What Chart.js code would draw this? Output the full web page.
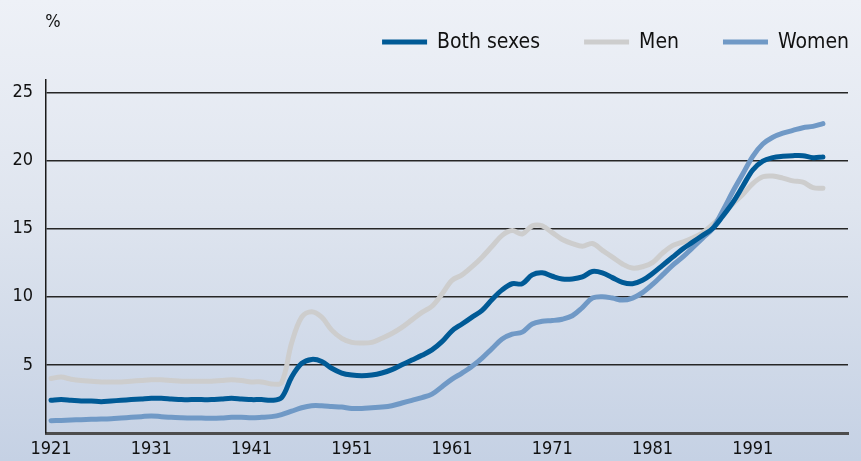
<!DOCTYPE html>
<html>
<head>
<meta charset="utf-8">
<script src="https://cdn.jsdelivr.net/npm/chart.js@4.4.1/dist/chart.umd.min.js"></script>
<style>
  html, body { margin: 0; padding: 0; }
  body {
    width: 861px; height: 461px; overflow: hidden;
    background: linear-gradient(to bottom, #eef1f7 0%, #dfe5ef 45%, #c5d1e4 100%);
  }
  #wrap { position: relative; width: 861px; height: 461px; }
  canvas { display: block; }
</style>
</head>
<body>
<div id="wrap"><canvas id="chart" width="861" height="461"></canvas></div>
<script>
// --- DATA ---
const years = [];
for (let y = 1921; y <= 1998; y++) years.push(y);

const bothSexes = [
  2.4, 2.45, 2.4, 2.35, 2.35, 2.3, 2.35, 2.4, 2.45, 2.5,
  2.55, 2.55, 2.5, 2.45, 2.45, 2.45, 2.45, 2.5, 2.55, 2.5,
  2.45, 2.45, 2.4, 2.6, 4.1, 5.1, 5.4, 5.25, 4.75, 4.4,
  4.25, 4.2, 4.25, 4.4, 4.65, 5.0, 5.35, 5.7, 6.1, 6.7,
  7.5, 8.0, 8.5, 9.0, 9.8, 10.5, 10.95, 10.95, 11.6, 11.75,
  11.5, 11.3, 11.3, 11.45, 11.85, 11.75, 11.4, 11.05, 10.95, 11.2,
  11.7, 12.3, 12.9, 13.5, 14.0, 14.5, 15.0, 15.9, 16.9, 18.1,
  19.3, 19.95, 20.2, 20.3, 20.35, 20.35, 20.2, 20.25
];

const men = [
  4.0, 4.1, 3.95, 3.85, 3.8, 3.75, 3.75, 3.75, 3.8, 3.85,
  3.9, 3.9, 3.85, 3.8, 3.8, 3.8, 3.8, 3.85, 3.9, 3.85,
  3.75, 3.75, 3.6, 3.7, 6.6, 8.5, 8.9, 8.5, 7.55, 6.95,
  6.65, 6.6, 6.65, 6.95, 7.3, 7.75, 8.3, 8.85, 9.3, 10.2,
  11.2, 11.6, 12.2, 12.9, 13.7, 14.5, 14.85, 14.6, 15.2, 15.2,
  14.7, 14.2, 13.9, 13.7, 13.9, 13.4, 12.9, 12.4, 12.1, 12.2,
  12.5, 13.2, 13.75, 14.0, 14.3, 14.7, 15.3, 16.0, 16.8, 17.5,
  18.3, 18.8, 18.85, 18.7, 18.5, 18.4, 18.0, 17.95
];

const women = [
  0.9, 0.92, 0.95, 0.98, 1.0, 1.02, 1.05, 1.1, 1.15, 1.2,
  1.25, 1.2, 1.15, 1.12, 1.1, 1.1, 1.08, 1.1, 1.15, 1.15,
  1.12, 1.15, 1.2, 1.35, 1.6, 1.85, 2.0, 2.0, 1.95, 1.9,
  1.8, 1.8, 1.85, 1.9, 2.0, 2.2, 2.4, 2.6, 2.85, 3.4,
  3.95, 4.4, 4.9, 5.5, 6.2, 6.9, 7.25, 7.4, 8.0, 8.2,
  8.25, 8.35, 8.6, 9.2, 9.9, 10.0, 9.9, 9.75, 9.9, 10.3,
  10.9, 11.6, 12.3, 12.9, 13.6, 14.3, 15.0, 16.3, 17.7, 19.0,
  20.3, 21.2, 21.7, 22.0, 22.2, 22.4, 22.5, 22.7
];

const xTicks = [1921, 1931, 1941, 1951, 1961, 1971, 1981, 1991];
const yTicks = [0, 5, 10, 15, 20, 25];

const FONT = "'DejaVu Sans Condensed', 'Liberation Sans Narrow', 'Liberation Sans', sans-serif";

function toPoints(values) {
  return values.map((v, i) => ({ x: years[i], y: v }));
}

// "%" unit label and the legend, drawn on the canvas
const extrasPlugin = {
  id: 'extras',
  afterDraw(chart) {
    const ctx = chart.ctx;
    ctx.save();
    ctx.fillStyle = '#111';
    ctx.font = '18px ' + FONT;
    ctx.textAlign = 'center';
    ctx.textBaseline = 'middle';
    ctx.fillText('%', 53, 22);

    // legend, laid out from the right edge
    ctx.font = '21px ' + FONT;
    ctx.textAlign = 'left';
    const lineW = 45, textGap = 10, itemGap = 44, y = 42;
    const items = [0, 1, 2].map(i => chart.data.datasets[i]);
    let x = 849;
    const placed = [];
    for (let i = items.length - 1; i >= 0; i--) {
      const w = ctx.measureText(items[i].label).width;
      const textX = x - w;
      const lineX = textX - textGap - lineW;
      placed.unshift({ ds: items[i], textX, lineX });
      x = lineX - itemGap;
    }
    placed.forEach(p => {
      ctx.fillStyle = p.ds.borderColor;
      ctx.fillRect(p.lineX, y - 2.5, lineW, 5);
      ctx.fillStyle = '#111';
      ctx.fillText(p.ds.label, p.textX, y + 1);
    });
    ctx.restore();
  }
};

const ctx = document.getElementById('chart').getContext('2d');
new Chart(ctx, {
  type: 'line',
  data: {
    datasets: [
      { label: 'Both sexes', data: toPoints(bothSexes), borderColor: '#005a96', order: 0 },
      { label: 'Men', data: toPoints(men), borderColor: '#cdcdcd', order: 2 },
      { label: 'Women', data: toPoints(women), borderColor: '#7099c6', order: 1 }
    ]
  },
  options: {
    responsive: false,
    animation: false,
    devicePixelRatio: 1,
    layout: { padding: { top: 80, right: 13, left: 0, bottom: 0 } },
    elements: {
      line: { borderWidth: 5, tension: 0.35, borderCapStyle: 'round', borderJoinStyle: 'round', fill: false },
      point: { radius: 0 }
    },
    plugins: {
      legend: { display: false },
      tooltip: { enabled: false }
    },
    scales: {
      x: {
        type: 'linear',
        min: 1920.5,
        max: 2000.5,
        afterBuildTicks: scale => { scale.ticks = xTicks.map(v => ({ value: v })); },
        afterFit: scale => { scale.height = 28; },
        grid: { display: false, drawTicks: false },
        border: { display: true, color: '#4d4d4d', width: 3 },
        ticks: {
          padding: 6,
          autoSkip: false,
          maxRotation: 0,
          minRotation: 0,
          color: '#111',
          font: { family: FONT, size: 18 },
          callback: v => String(v)
        }
      },
      y: {
        min: 0,
        max: 25.9,
        afterBuildTicks: scale => { scale.ticks = yTicks.map(v => ({ value: v })); },
        afterFit: scale => { scale.width = 46; },
        grid: {
          drawTicks: false,
          color: ctx => ctx.tick && ctx.tick.value === 0 ? 'rgba(0,0,0,0)' : '#262626',
          lineWidth: 1.5
        },
        border: { display: true, color: '#1a1a1a', width: 1.5 },
        ticks: {
          padding: 13,
          autoSkip: false,
          color: '#111',
          font: { family: FONT, size: 18 },
          callback: v => v === 0 ? '' : String(v)
        }
      }
    }
  },
  plugins: [extrasPlugin]
});
</script>
</body>
</html>
